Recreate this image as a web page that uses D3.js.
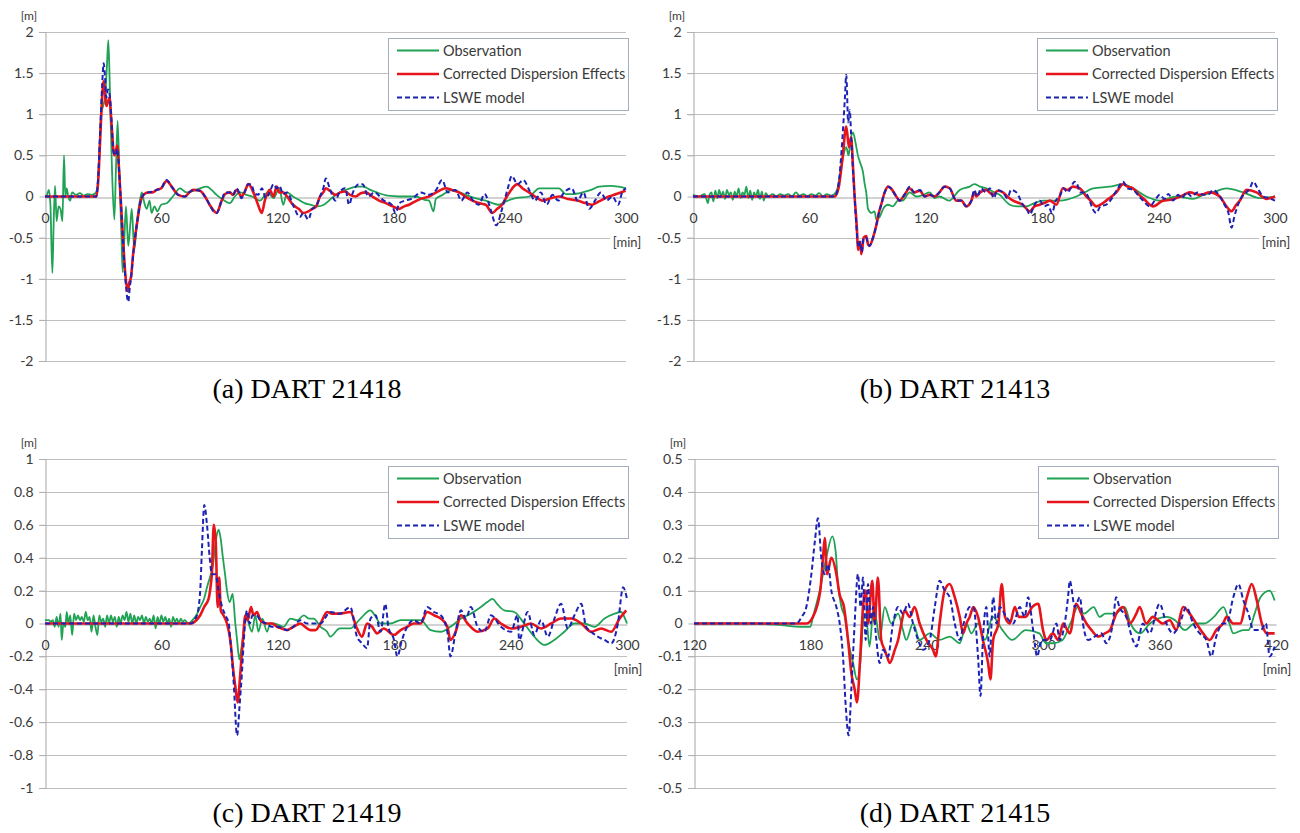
<!DOCTYPE html>
<html>
<head>
<meta charset="utf-8">
<title>DART tsunami records</title>
<script src="https://cdn.jsdelivr.net/npm/d3@7"></script>
<style>
  html, body { margin: 0; padding: 0; background: #fff; }
  svg { display: block; }
</style>
</head>
<body>
<svg id="chart" width="1300" height="833"></svg>
<script>
// Tick values
const xTicks300 = [0, 60, 120, 180, 240, 300];
const xTicks420 = [120, 180, 240, 300, 360, 420];
const yTicks2 = [2, 1.5, 1, 0.5, 0, -0.5, -1, -1.5, -2];
const yTicks1 = [1, 0.8, 0.6, 0.4, 0.2, 0, -0.2, -0.4, -0.6, -0.8, -1];
const yTicks05 = [0.5, 0.4, 0.3, 0.2, 0.1, 0, -0.1, -0.2, -0.3, -0.4, -0.5];

const seriesNames = ['Observation', 'Corrected Dispersion Effects', 'LSWE model'];

// [minute, metres]
// (a) DART 21418
const obsA = [[0,0],[1,0.02],[2,0.08],[2.8,-0.1],[3.8,-0.93],[4.5,-0.3],[5.2,0.13],[6,-0.3],[7,-0.12],[8,-0.15],[9,-0.3],[9.8,0.5],[10.5,0],[11.2,0.1],[12,0],[13,-0.05],[14,0.05],[16,0.02],[18,0.04],[20,0.01],[22,0.03],[24,0.02],[26,0.04],[27,0.1],[28,0.5],[29,1.0],[30,1.1],[31,1.2],[32,1.6],[32.7,1.9],[33.5,1.3],[34.5,0.4],[35.8,-0.28],[36.6,0.3],[37.5,0.92],[38.5,0.2],[39.5,-0.5],[40.1,-0.92],[41,-0.5],[41.8,-0.12],[43,-0.6],[44,-0.35],[44.8,-0.15],[46.1,-0.65],[47.5,-0.3],[49,-0.05],[50,0.05],[51,-0.05],[52.5,-0.15],[54,-0.05],[55,-0.2],[56.5,-0.12],[58,-0.18],[60,-0.1],[63,-0.08],[66,0.0],[69.7,0.1],[73,0.05],[77,0.07],[80,0.1],[83.5,0.12],[86,0.08],[88.6,0.02],[92,-0.04],[95.5,-0.08],[98,0.0],[100.7,0.05],[104,0.02],[107,0.0],[111,-0.05],[115,0.05],[118,-0.02],[121,0.1],[123,-0.1],[125,0.05],[128,0.0],[131.7,-0.05],[134,-0.08],[137,-0.1],[141,-0.12],[144,-0.1],[149,0.0],[153,0.06],[157.5,0.1],[161,0.12],[164.4,0.12],[168,0.08],[171.3,0.05],[177,0.01],[183,0.0],[188,0.0],[191.6,0.0],[196,-0.04],[198.3,-0.05],[200.6,-0.18],[201.8,-0.03],[205.3,0.02],[210.4,0.08],[214,0.05],[217.3,0.02],[222,-0.02],[227.6,-0.05],[231,-0.08],[234.5,-0.1],[238,-0.06],[243,-0.02],[250,0.0],[255.2,0.1],[260,0.1],[265.4,0.1],[268.9,0.03],[272,0.03],[277.5,0.05],[282,0.08],[286.1,0.12],[292,0.13],[296,0.12],[300,0.1]];
const corrA = [[0,0],[26.5,0],[27.5,0.2],[28.5,0.7],[29.5,1.2],[30.3,1.4],[31,1.25],[31.7,1.1],[32.5,1.15],[33.3,1.2],[34.3,0.9],[35.8,0.5],[36.6,0.55],[37.3,0.62],[38.3,0.3],[39.5,-0.2],[40.5,-0.6],[41.5,-0.95],[42.7,-1.15],[43.5,-1.05],[44.4,-0.98],[45.5,-0.7],[46.5,-0.5],[48,-0.25],[49,-0.1],[50.8,0.02],[53.4,0.05],[55.5,0.05],[57.7,0.08],[60,0.1],[62.8,0.19],[65.4,0.12],[68.8,0.02],[72.3,0.0],[74.5,0.05],[76.6,0.08],[80,0.07],[82.6,0.0],[85,-0.1],[87,-0.17],[88.6,-0.2],[91.2,-0.05],[93,0.03],[95.5,0.05],[97,0.02],[99,0.08],[101.5,0.0],[103,0.05],[105,0.15],[107.6,0.05],[110,-0.1],[111.9,-0.2],[113.5,-0.05],[116,0.08],[118,0.0],[119.6,0.12],[121,0.05],[123,0.05],[125,0.0],[128,-0.1],[131,-0.15],[133.4,-0.2],[136,-0.18],[138,-0.15],[140,-0.12],[142,0.0],[143.7,0.05],[145,0.1],[147,0.07],[150,0.02],[152.5,0.05],[155,0.06],[157.5,0.02],[160.5,0.0],[163,0.04],[165.7,0.05],[169,0.0],[172.5,-0.05],[176,-0.08],[179.5,-0.12],[182.8,-0.15],[185.5,-0.12],[188,-0.1],[192,-0.05],[195,-0.02],[198.3,0.0],[202,0.05],[206.9,0.1],[210,0.08],[213.8,0.05],[217,0.0],[220.7,-0.05],[224,-0.08],[227.6,-0.1],[231,-0.2],[233.5,-0.15],[236,-0.1],[238.5,0.0],[241.3,0.1],[243.9,0.15],[246.5,0.1],[249.9,0.05],[253,0.0],[256.8,-0.05],[260,-0.03],[265.4,0.0],[270,-0.03],[275,-0.05],[279,-0.08],[282.6,-0.1],[286,-0.06],[291.2,0.0],[295,0.03],[299.8,0.07]];
const lsweA = [[0,0],[26.5,0],[27.5,0.25],[28.5,0.8],[29.5,1.35],[30.3,1.62],[31,1.45],[31.7,1.2],[32.5,1.3],[33.3,1.25],[34.3,0.95],[35.3,0.55],[36.3,0.5],[37.3,0.58],[38.3,0.3],[39.5,-0.2],[40.5,-0.65],[41.5,-1.0],[43,-1.28],[43.8,-1.1],[44.4,-1.0],[45.5,-0.72],[46.5,-0.5],[48,-0.25],[49,-0.1],[50.8,0.02],[53.4,0.05],[55.5,0.06],[57.7,0.08],[60,0.1],[62.8,0.2],[65.4,0.12],[68.8,0.02],[72.3,0.0],[74.5,0.05],[76.6,0.08],[80,0.07],[82.6,0.0],[85,-0.1],[87,-0.18],[88.6,-0.2],[91.2,-0.05],[93,0.05],[95.5,0.05],[97,0.02],[99,0.1],[101.5,-0.02],[103,0.05],[105,0.15],[106.5,0.15],[108,0.05],[110,0.02],[112,0.1],[114,-0.02],[116,0.05],[118,0.15],[119.6,0.1],[121,0.13],[123,0.03],[125,0.05],[128,-0.1],[131.6,-0.25],[133.4,-0.2],[136,-0.28],[138,-0.15],[140,-0.12],[142,0.0],[143.7,0.1],[145,0.22],[147,0.1],[150,-0.05],[152,0.05],[155,0.1],[157,-0.1],[159,0.05],[162,0.15],[164,0.15],[167,0.0],[170,0.05],[175,-0.05],[179,-0.1],[181,-0.2],[183,-0.08],[186,-0.05],[190,-0.02],[194,0.05],[198,0.02],[202,0.08],[205,0.2],[208,0.05],[212,0.08],[215,-0.05],[218,0.05],[221,-0.05],[224,-0.1],[227,0.03],[230,-0.15],[233,-0.35],[236,-0.15],[239,0.1],[241,0.25],[244,0.15],[247,0.2],[250,0.08],[253,-0.05],[256,0.05],[259,-0.1],[262,0.02],[265,-0.05],[268,0.05],[272,0.1],[275,-0.05],[278,0.05],[281,-0.15],[284,-0.05],[287,0.05],[290,-0.05],[293,0.0],[296,-0.1],[298,0.05],[300,0.1]];

// (b) DART 21413
const obsB = [[0,0.02],[3,0.0],[6,0.03],[7.7,-0.08],[8.5,0.02],[9.5,0.05],[10.5,-0.06],[11.5,0.07],[12.5,-0.02],[13.5,0.08],[14.5,0.0],[15.5,0.06],[16.5,-0.03],[17.5,0.08],[18.5,0.02],[19.5,0.05],[20.5,-0.04],[21.5,0.06],[22.5,0.0],[23.5,0.1],[24.5,-0.02],[25.5,0.05],[26.5,0.02],[27.5,0.12],[28.5,-0.02],[29.5,0.07],[30.5,-0.04],[31.5,0.05],[32.5,0.0],[33.5,0.08],[34.5,-0.03],[35.5,0.06],[36.5,-0.05],[37.5,0.04],[39,0.0],[41,0.03],[43,0.0],[45,0.03],[47,0.01],[49,0.03],[51,0.0],[53,0.05],[55,0.01],[57,0.03],[59,0.0],[61,0.03],[63,0.01],[65,0.04],[67,0.0],[69,0.03],[71,0.01],[73,0.03],[74.5,0.1],[76,0.3],[77.5,0.5],[79,0.6],[80.2,0.5],[81.3,0.7],[82.5,0.78],[83.8,0.65],[85,0.5],[86.3,0.4],[87.6,0.3],[88.5,0.15],[89.3,0.05],[90.2,-0.15],[92,-0.2],[93.6,-0.18],[94.5,-0.28],[96.2,-0.25],[98,-0.15],[100.5,-0.1],[103,-0.12],[105.7,-0.05],[108,-0.05],[111.7,0.05],[115,0.0],[118.6,0.02],[122,0.05],[124.5,-0.02],[127,0.0],[132,-0.05],[137.5,0.08],[142.6,0.12],[145,0.15],[148,0.12],[151.2,0.1],[154.5,0.06],[158,0.02],[163.3,-0.1],[167,-0.12],[171.8,-0.12],[176,-0.08],[180.4,-0.05],[189,-0.05],[197.6,0.0],[202,0.05],[206.2,0.1],[214.8,0.12],[221.7,0.15],[226.8,0.1],[233.7,0.0],[240.6,-0.05],[249.2,0.0],[257.8,-0.03],[263,0.02],[268.1,0.05],[275,0.1],[283.6,0.05],[292.2,-0.02],[300,0.0]];
const corrB = [[0,0],[73,0],[75,0.1],[77,0.45],[79,0.85],[80.4,0.6],[81.5,0.72],[82.5,0.35],[83.3,0.0],[84.5,-0.4],[85,-0.65],[86,-0.55],[86.8,-0.7],[88,-0.5],[89.3,-0.48],[90.2,-0.58],[91,-0.6],[92.8,-0.5],[94.5,-0.35],[96,-0.18],[97,-0.1],[98.8,0.05],[100.5,0.12],[102,0.1],[104.8,0.0],[106.5,-0.05],[109,0.02],[111.7,0.1],[114,0.05],[117,0.07],[119.4,0.0],[122,0.02],[124.6,0.0],[127,0.05],[129.7,0.12],[132.3,0.1],[135.7,-0.05],[138.3,-0.05],[140.9,-0.12],[143.5,-0.05],[145,0.05],[146,0.0],[148,0.05],[151,0.08],[154.6,0.02],[157,0.07],[159.8,0.05],[162,0.0],[165,-0.05],[170,-0.1],[173.6,-0.18],[176,-0.12],[178.7,-0.1],[181,-0.08],[184,-0.05],[187.3,-0.1],[190.7,0.1],[193,0.08],[195.9,0.12],[199.3,0.1],[202.8,0.0],[205,-0.05],[207.9,-0.12],[210,-0.1],[213,-0.05],[218.2,0.05],[221.7,0.15],[224,0.12],[226.8,0.1],[230,0.02],[232,-0.02],[237.1,-0.12],[242.3,-0.05],[246,-0.04],[249.2,-0.02],[253,0.02],[256,0.05],[261.2,0.02],[266.4,0.05],[271.5,0.0],[275,-0.12],[277.6,-0.18],[280,-0.1],[281.9,-0.05],[285.3,0.08],[290.5,0.05],[295.7,-0.03],[300,0.0]];
const lsweB = [[0,0],[73,0],[75,0.15],[77,0.7],[78.3,1.2],[79,1.48],[80,0.9],[80.8,1.05],[81.5,0.75],[82.5,0.3],[83.3,0.0],[84.5,-0.45],[85.5,-0.62],[86.3,-0.55],[87,-0.68],[88,-0.5],[89.3,-0.5],[90.2,-0.58],[91,-0.6],[92.8,-0.5],[94.5,-0.35],[96,-0.18],[97,-0.1],[98.8,0.05],[100.5,0.12],[102,0.1],[104.8,0.0],[106.5,-0.05],[109,0.02],[111.7,0.12],[114,0.05],[117,0.08],[119.4,0.0],[122,0.02],[124.6,0.0],[127,0.05],[129.7,0.12],[132.3,0.1],[135.7,-0.05],[138.3,-0.05],[140.9,-0.12],[143.5,-0.05],[145,0.08],[146.5,0.0],[148.5,0.1],[151,0.05],[153,0.1],[155,-0.02],[157,0.08],[159.8,0.05],[162,-0.02],[164,0.08],[166.7,0.05],[169,-0.05],[170,-0.1],[172,-0.15],[173.6,-0.22],[176,-0.1],[178.7,-0.05],[181,-0.12],[183,-0.1],[185,-0.2],[187,-0.05],[189,0.0],[191,0.1],[193,0.05],[196.8,0.18],[198.5,0.12],[199.3,0.05],[202,0.05],[204.5,-0.05],[206,-0.15],[207.9,-0.2],[210,-0.12],[213,-0.1],[216,-0.02],[219,0.1],[221.7,0.18],[224,0.1],[226.8,0.08],[230,0.0],[232,-0.05],[235.4,-0.12],[238,-0.05],[240.6,0.02],[243,-0.03],[245,0.03],[247.5,-0.05],[250,0.02],[252,-0.02],[254.4,0.05],[257,0.0],[260,0.05],[263,0.02],[266,0.03],[268.1,0.08],[271,0.02],[274,-0.1],[276,-0.2],[277.6,-0.38],[279,-0.25],[280.2,-0.15],[283,0.0],[285.3,0.05],[287,0.1],[288.8,0.18],[291,0.1],[294,0.0],[297,-0.02],[300,-0.05]];

// (c) DART 21419
const obsC = [[0,0.02],[2,0.02],[3,0.01],[4,0.02],[5,-0.02],[6,0.04],[7,-0.02],[8,0.06],[8.6,-0.1],[9.5,0.0],[10.5,-0.02],[11.2,0.07],[12,0.0],[13,0.05],[14,-0.07],[15,0.06],[16,0.02],[17,0.05],[18,0.02],[19,0.04],[20,0.01],[21,0.07],[22,0.02],[23,0.04],[24,-0.05],[25,0.05],[26,-0.02],[27,-0.07],[28,0.05],[29,0.01],[30,0.03],[31,-0.02],[32,0.05],[33,0.0],[34,0.05],[35,0.01],[36,0.04],[37,-0.02],[38,0.04],[39,0.0],[40,0.05],[41,0.02],[42,0.07],[43,0.01],[44,0.06],[45,0.0],[46,0.05],[47,0.0],[48,0.04],[49,0.02],[50,0.05],[51,0.0],[52,0.04],[53,0.01],[54,0.03],[55,0.0],[56,0.05],[57,-0.03],[58,0.04],[59,0.0],[60,0.05],[61,0.01],[62,0.04],[63,0.0],[64,0.03],[65,-0.02],[66,0.04],[67,0.01],[68,0.03],[69,0.0],[70,0.03],[71,0.01],[72,0.02],[74,0.0],[76,0.02],[78,0.05],[80,0.1],[82,0.15],[83.5,0.22],[85,0.28],[86.5,0.35],[88,0.5],[89.5,0.57],[90.5,0.52],[91.7,0.4],[92.8,0.3],[93.8,0.2],[95.2,0.13],[96.7,0.18],[98.1,0.0],[99,-0.1],[100.2,-0.22],[101,-0.17],[101.9,-0.1],[103.8,0.05],[105,0.0],[106.7,-0.05],[108.4,0.05],[110,-0.05],[112,0.03],[114.5,-0.05],[116,0.0],[118,0.0],[123,-0.02],[126.5,0.03],[130,0.02],[133.4,0.05],[136,0.03],[138.5,0.03],[142,-0.02],[145.4,-0.05],[147,-0.08],[152,-0.03],[157.4,-0.03],[162.6,0.03],[167.8,0.08],[170,0.05],[173,0.0],[178,0.0],[183.3,0.02],[188.4,0.02],[193.6,0.02],[198.8,-0.04],[204,-0.05],[209,-0.02],[214.4,0.03],[219.5,0.06],[224.7,0.1],[228,0.13],[230.7,0.15],[233,0.12],[236.7,0.08],[241.9,0.07],[247,0.0],[252.2,-0.08],[257.4,-0.13],[262.5,-0.1],[267.7,-0.05],[272.9,0.0],[278,0.0],[283.2,-0.02],[288.4,0.03],[293.6,0.06],[297,0.07],[299,0.03],[300,0.0]];
const corrC = [[0,0],[75,0],[78,0.02],[80,0.05],[82,0.1],[84.3,0.15],[85.3,0.22],[86,0.3],[87,0.6],[88,0.5],[89,0.1],[89.8,0.28],[90.6,0.08],[92,0.05],[93.8,0.0],[95.5,-0.1],[97.2,-0.3],[98.3,-0.4],[99.3,-0.48],[100.7,-0.3],[102,-0.1],[103.3,0.05],[104.5,0.02],[106.2,0.1],[107.5,0.05],[109.3,0.07],[111,0.02],[114,0.0],[117,0.0],[119.6,-0.02],[122,-0.03],[124.8,-0.04],[128,-0.02],[131.7,0.0],[134,-0.02],[136.8,-0.04],[139.4,-0.04],[142,0.0],[145.4,0.07],[148,0.06],[152,0.06],[157.4,0.07],[160.8,-0.03],[163.4,-0.08],[166,0.0],[168.6,-0.02],[171.2,-0.06],[174.6,-0.03],[179.9,-0.07],[183.3,-0.04],[186.7,-0.02],[190,0.0],[193.6,0.0],[197,0.07],[200.5,0.05],[204,0.03],[207.4,-0.02],[209,-0.1],[211.7,-0.05],[214.4,0.05],[217.8,0.0],[223,-0.05],[228.2,-0.03],[231.6,0.03],[235,0.0],[240.2,-0.03],[245.3,-0.02],[250.5,0.0],[255.7,-0.03],[260.9,0.0],[266,0.03],[271.2,0.03],[276.4,0.0],[281.5,-0.05],[286.7,-0.03],[291.9,-0.05],[296.2,0.03],[299.6,0.08]];
const lsweC = [[0,0],[75,0],[78.3,0.05],[80,0.2],[80.9,0.45],[82.1,0.72],[83.5,0.6],[84.9,0.4],[86,0.3],[87.8,0.3],[89.5,0.2],[91.3,0.1],[93,0.05],[94.7,0.0],[95.5,-0.1],[97.2,-0.35],[99,-0.68],[100.3,-0.5],[101.5,-0.3],[102.8,-0.05],[104.1,0.08],[105.5,0.0],[107,0.05],[109,0.05],[111,0.02],[114,0.0],[117,-0.02],[120,-0.02],[124.8,-0.04],[128,-0.02],[131.6,0.02],[135,0.0],[142,0.0],[147,0.07],[152,0.06],[157.4,0.1],[160.8,-0.08],[163.4,-0.12],[166,-0.15],[167.8,0.03],[170.4,0.05],[173,-0.05],[175.4,0.12],[177,-0.02],[179.9,-0.1],[181.6,-0.2],[184,-0.1],[186.7,-0.02],[190,0.02],[193.6,0.0],[197,0.1],[200.5,0.07],[204,0.05],[207.4,-0.05],[209,-0.2],[211.7,-0.05],[214.4,0.08],[217,0.03],[219.5,0.1],[223,-0.02],[226.5,-0.05],[229.9,0.05],[235,-0.02],[240.2,-0.05],[243.6,0.05],[244.4,-0.1],[248.8,0.07],[252.2,-0.07],[255.7,0.02],[259.2,-0.08],[262.6,0.03],[266,0.12],[269.5,-0.03],[272.9,0.05],[276.4,0.12],[278.9,-0.02],[281.5,-0.05],[284.9,-0.08],[288.4,-0.1],[291.9,-0.12],[295.3,0.0],[298,0.22],[300,0.15]];

// (d) DART 21415
const obsD = [[120,0],[150,0],[165,-0.005],[175,-0.01],[180,-0.01],[181.3,0.02],[184.8,0.1],[188.2,0.2],[191.3,0.265],[193,0.22],[194.2,0.12],[196,0.05],[197.7,0.02],[199.4,-0.05],[202,-0.12],[204,-0.17],[205.7,-0.12],[207.1,0.0],[208.5,0.03],[210.5,-0.07],[212.6,0.05],[214.3,0.0],[215.7,-0.05],[218.3,0.05],[221.7,0.0],[225.2,0.03],[227.7,-0.02],[229.4,-0.05],[232.9,0.0],[236.3,-0.05],[241.5,-0.03],[246.6,-0.05],[251.8,-0.04],[257,-0.06],[260.4,0.0],[263,-0.03],[266.4,0.0],[270,-0.05],[274,0.02],[279,-0.02],[284,-0.05],[291,-0.02],[298,-0.03],[301.5,-0.06],[305,-0.06],[310,-0.05],[314,0.0],[317.9,0.05],[321,0.03],[326,0.05],[329.1,0.02],[332,0.03],[337,0.03],[342,0.05],[345,0.0],[350,-0.03],[355,0.0],[363.5,0.02],[368,0.01],[373,-0.02],[378,0.0],[383,0.0],[388,0.02],[393,0.05],[396,0.0],[398,-0.03],[403,-0.02],[405.8,-0.02],[409,0.03],[412,0.08],[416.7,0.1],[419.3,0.07]];
const corrD = [[120,0],[178,0],[181.3,0.02],[185.1,0.1],[186.5,0.2],[187.4,0.26],[188.6,0.15],[190.8,0.2],[193.4,0.15],[195,0.09],[197.3,0.05],[199.4,-0.05],[201.1,-0.15],[202.8,-0.2],[204,-0.24],[205.7,-0.1],[207.1,0.05],[208.5,0.1],[209.7,0.0],[211.9,0.13],[213.1,0.0],[214.8,0.14],[216.5,-0.05],[218.3,-0.08],[219.5,-0.1],[220.9,-0.12],[223.5,-0.08],[225.2,-0.05],[226.9,0.0],[228.6,0.04],[231.2,0.02],[233.7,0.05],[236.3,0.0],[239.8,-0.05],[243.2,-0.08],[244.6,-0.1],[246.6,0.0],[249.2,0.1],[251.8,0.12],[254.4,0.08],[257,0.02],[258.7,-0.03],[260.4,0.0],[262.1,0.02],[264,0.05],[266.4,0.02],[268.9,-0.05],[271.6,-0.12],[272.8,-0.17],[274.2,-0.05],[276.9,0.0],[278.6,0.12],[280.3,0.02],[282.8,0.0],[285.4,0.05],[287.4,0.02],[290.9,0.02],[294.3,0.05],[297.4,0.06],[299.9,-0.02],[301.6,-0.05],[305,-0.03],[307.7,-0.05],[310.3,0.0],[313.7,-0.03],[317,0.06],[319.6,0.03],[322.3,0.0],[324.9,-0.02],[328.3,-0.04],[331.8,-0.03],[334.4,-0.02],[337.7,0.03],[341.2,0.05],[344.6,0.0],[348,0.03],[349.7,0.05],[353.1,0.0],[356.5,0.02],[361.7,0.0],[365.2,0.01],[368.6,-0.02],[372.1,0.05],[375.5,0.03],[378.9,0.0],[382.4,-0.03],[385.8,-0.05],[389.2,-0.02],[392.7,0.0],[394.6,0.02],[398,0.0],[401.5,0.0],[405,0.08],[407.5,0.12],[410.1,0.07],[412.7,0.0],[415.3,-0.03],[419.3,-0.03]];
const lsweD = [[120,0],[172.7,0.0],[175.5,0.02],[177.9,0.05],[180.5,0.15],[182.3,0.25],[183.9,0.32],[185.6,0.2],[187.3,0.15],[189.1,0.18],[190.8,0.1],[193.4,0.05],[195.1,0.0],[196.8,-0.1],[198.2,-0.25],[199.7,-0.34],[201.1,-0.2],[202.8,0.0],[204.5,0.15],[205.9,0.05],[207.1,0.14],[208.5,-0.05],[209.7,0.12],[211.1,0.0],[212.3,0.05],[214,-0.05],[215.7,-0.12],[217.4,-0.08],[220,-0.1],[222.6,0.0],[225.2,0.05],[227.7,0.03],[230.3,0.06],[232.9,0.0],[235.5,-0.05],[238.1,-0.08],[241.5,-0.05],[244.1,0.05],[246.6,0.13],[249.2,0.1],[251.8,0.08],[254.4,0.0],[257,-0.05],[259,0.0],[260.4,0.03],[262.1,0.05],[264,0.05],[266.4,-0.1],[267.7,-0.22],[268.9,-0.05],[270.7,0.05],[272.4,-0.1],[274.2,0.08],[275.9,0.0],[277.6,0.05],[281,0.02],[284.5,0.0],[287.9,0.05],[290.5,0.02],[292.2,0.08],[294.8,-0.02],[296.9,-0.1],[299.1,-0.05],[303.4,-0.05],[306.8,0.0],[308.5,-0.05],[311.1,0.0],[312.8,0.08],[313.7,0.13],[316.3,0.05],[318.9,0.08],[320.5,0.0],[323.1,-0.05],[326.5,-0.04],[330,-0.03],[332.5,-0.06],[335.9,0.0],[337.6,0.08],[339.3,0.05],[342.8,0.02],[346.2,-0.05],[348,-0.07],[351.4,0.0],[354.8,-0.03],[360,0.06],[363.5,0.0],[367,-0.03],[370.4,0.0],[373.8,0.05],[377.3,0.0],[380.7,-0.03],[384.1,-0.05],[386.6,-0.1],[389.2,-0.04],[392.7,0.0],[394.6,0.0],[398,0.08],[400.6,0.12],[403.2,0.07],[405.8,0.03],[408.4,-0.02],[412.2,-0.02],[414.8,0.0],[416.7,-0.1],[419.3,-0.07]];

const styles = [
  { color: '#1fa254', width: 1.8, dash: null },
  { color: '#e8141c', width: 2.6, dash: null },
  { color: '#1c22b4', width: 2, dash: '5,3' }
];

const panels = [
  { title: '(a) DART 21418', series: [obsA, corrA, lsweA], xTicks: xTicks300, yTicks: yTicks2,
    left: 45, right: 626, top: 32, bottom: 361, legendX: 388, legendY: 38, titleX: 307, titleY: 398 },
  { title: '(b) DART 21413', series: [obsB, corrB, lsweB], xTicks: xTicks300, yTicks: yTicks2,
    left: 693, right: 1275, top: 32, bottom: 361, legendX: 1037, legendY: 38, titleX: 955, titleY: 398 },
  { title: '(c) DART 21419', series: [obsC, corrC, lsweC], xTicks: xTicks300, yTicks: yTicks1,
    left: 45, right: 627, top: 459, bottom: 788, legendX: 388, legendY: 466, titleX: 307, titleY: 822 },
  { title: '(d) DART 21415', series: [obsD, corrD, lsweD], xTicks: xTicks420, yTicks: yTicks05,
    left: 694, right: 1276, top: 459, bottom: 788, legendX: 1038, legendY: 466, titleX: 955, titleY: 822 }
];

const FONT = 'Lato, "Open Sans", sans-serif';
const TEXT = '#3a3a3a';
const svg = d3.select('#chart');

function drawPanel(p) {
  const g = svg.append('g');
  const x = d3.scaleLinear()
    .domain(d3.extent(p.xTicks))
    .range([p.left, p.right]);
  const y = d3.scaleLinear()
    .domain(d3.extent(p.yTicks))
    .range([p.bottom, p.top]);
  const snap = v => Math.round(v) + 0.5;

  // horizontal gridlines
  g.selectAll('line.grid')
    .data(p.yTicks.filter(v => v !== 0))
    .join('line')
    .attr('class', 'grid')
    .attr('x1', p.left - 6).attr('x2', p.right)
    .attr('y1', d => snap(y(d))).attr('y2', d => snap(y(d)))
    .attr('stroke', '#c0c0c0').attr('stroke-width', 1);

  // y axis (labels + little ticks on the left)
  const yAxis = g.append('g')
    .attr('transform', `translate(${snap(p.left)},0)`)
    .call(d3.axisLeft(y).tickValues(p.yTicks).tickSize(6).tickPadding(6)
      .tickFormat(d => String(+d.toFixed(1))));
  yAxis.select('.domain').attr('stroke', '#a6a6a6');
  yAxis.selectAll('.tick line').attr('stroke', '#b0b0b0');
  yAxis.selectAll('.tick text')
    .attr('fill', TEXT).attr('font-family', FONT).attr('font-size', 14);

  // x axis sits on the zero line
  const xAxis = g.append('g')
    .attr('transform', `translate(0,${snap(y(0))})`)
    .call(d3.axisBottom(x).tickValues(p.xTicks).tickSize(0).tickPadding(16).tickFormat(d3.format('d')));
  xAxis.select('.domain').attr('stroke', '#a6a6a6');
  xAxis.selectAll('.tick text')
    .attr('fill', TEXT).attr('font-family', FONT).attr('font-size', 14);

  // unit labels
  g.append('text')
    .attr('x', p.left - 16).attr('y', p.top - 12)
    .attr('text-anchor', 'middle')
    .attr('fill', TEXT).attr('font-family', FONT).attr('font-size', 12)
    .text('[m]');

  const minY = y(0) + 45;
  g.append('rect')
    .attr('x', p.right - 16).attr('y', minY - 8).attr('width', 34).attr('height', 17)
    .attr('fill', '#fff');
  g.append('text')
    .attr('x', p.right + 1).attr('y', minY + 5)
    .attr('text-anchor', 'middle')
    .attr('fill', TEXT).attr('font-family', FONT).attr('font-size', 13)
    .text('[min]');

  // series: observation, corrected, LSWE (dashed on top)
  const line = d3.line()
    .x(d => x(d[0]))
    .y(d => y(d[1]))
    .curve(d3.curveMonotoneX);

  p.series.forEach((data, i) => {
    const s = styles[i];
    g.append('path')
      .datum(data)
      .attr('d', line)
      .attr('fill', 'none')
      .attr('stroke', s.color)
      .attr('stroke-width', s.width)
      .attr('stroke-dasharray', s.dash)
      .attr('stroke-linejoin', 'round');
  });

  // legend
  const lg = g.append('g').attr('transform', `translate(${p.legendX},${p.legendY})`);
  lg.append('rect')
    .attr('x', 0.5).attr('y', 0.5).attr('width', 240).attr('height', 72)
    .attr('fill', '#fff').attr('stroke', '#a3adbb').attr('stroke-width', 1);
  seriesNames.forEach((name, i) => {
    const s = styles[i];
    const ry = 12.5 + i * 23.5;
    lg.append('line')
      .attr('x1', 9).attr('x2', 51).attr('y1', ry).attr('y2', ry)
      .attr('stroke', s.color).attr('stroke-width', s.width)
      .attr('stroke-dasharray', s.dash);
    lg.append('text')
      .attr('x', 55).attr('y', ry + 5)
      .attr('fill', TEXT).attr('font-family', FONT).attr('font-size', 14.5)
      .text(name);
  });

  // caption
  g.append('text')
    .attr('x', p.titleX).attr('y', p.titleY)
    .attr('text-anchor', 'middle')
    .attr('fill', '#000')
    .attr('font-family', '"Liberation Serif", "Times New Roman", serif')
    .attr('font-size', 28)
    .text(p.title);
}

panels.forEach(drawPanel);
</script>
</body>
</html>
